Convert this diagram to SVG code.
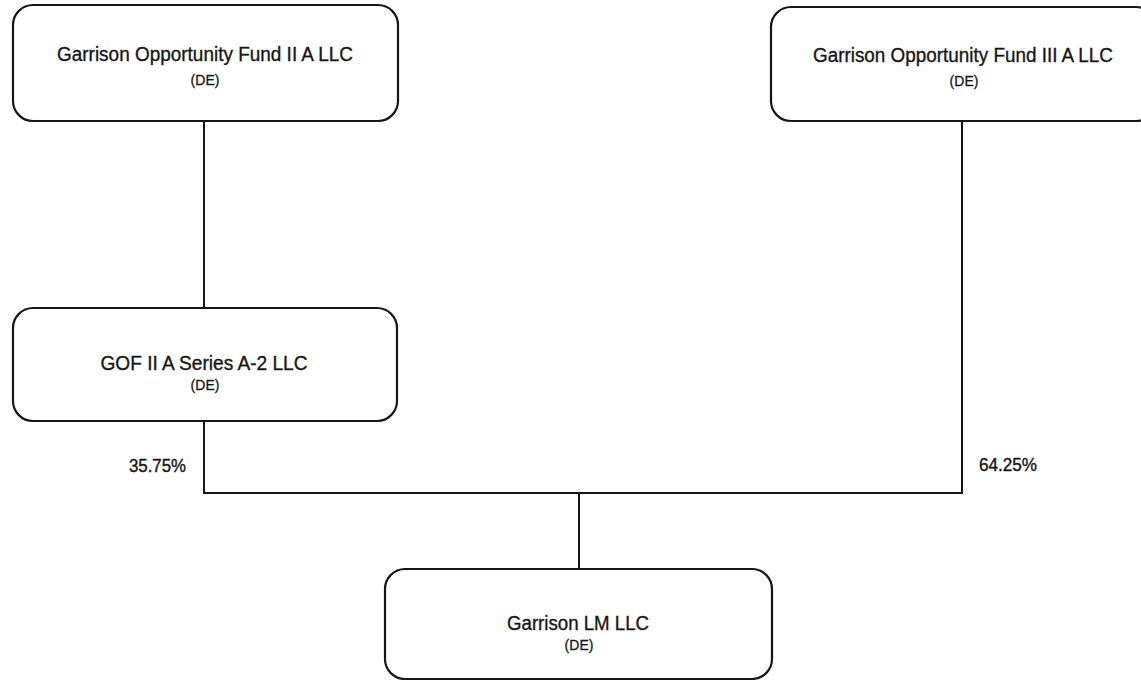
<svg xmlns="http://www.w3.org/2000/svg" width="1141" height="680" viewBox="0 0 1141 680">
<style>
.box{fill:#fff;stroke:#161616;stroke-width:2.2}
.t{font-family:"Liberation Sans",Arial,sans-serif;font-size:20px;fill:#161616;stroke:#161616;stroke-width:0.35;text-anchor:middle}
.s{font-family:"Liberation Sans",Arial,sans-serif;font-size:14px;fill:#161616;stroke:#161616;stroke-width:0.3;text-anchor:middle}
.p{font-family:"Liberation Sans",Arial,sans-serif;font-size:18px;fill:#161616;stroke:#161616;stroke-width:0.4}
.c{fill:none;stroke:#161616;stroke-width:2}
</style>
<rect width="1141" height="680" fill="#fff"/>
<g id="connectors">
<path class="c" d="M204 121 V308"/>
<path class="c" d="M204 421 V493 H962 V121"/>
<path class="c" d="M579 493 V569"/>
<text class="p" x="129" y="472" textLength="57" lengthAdjust="spacingAndGlyphs">35.75%</text>
<text class="p" x="979" y="471" textLength="58" lengthAdjust="spacingAndGlyphs">64.25%</text>
</g>
<g id="fund2">
<rect class="box" x="13" y="5" width="385" height="116" rx="20"/>
<text class="t" x="205" y="61" textLength="296" lengthAdjust="spacingAndGlyphs">Garrison Opportunity Fund II A LLC</text>
<text class="s" x="205" y="85">(DE)</text>
</g>
<g id="fund3">
<rect class="box" x="771" y="7" width="385" height="114" rx="20"/>
<text class="t" x="963" y="62" textLength="300" lengthAdjust="spacingAndGlyphs">Garrison Opportunity Fund III A LLC</text>
<text class="s" x="964" y="86">(DE)</text>
</g>
<g id="gof">
<rect class="box" x="13" y="308" width="384" height="113" rx="20"/>
<text class="t" x="204" y="370" textLength="207" lengthAdjust="spacingAndGlyphs">GOF II A Series A-2 LLC</text>
<text class="s" x="205" y="390">(DE)</text>
</g>
<g id="lm">
<rect class="box" x="385" y="569" width="387" height="110" rx="20"/>
<text class="t" x="578" y="630" textLength="142" lengthAdjust="spacingAndGlyphs">Garrison LM LLC</text>
<text class="s" x="579" y="650">(DE)</text>
</g>
</svg>
